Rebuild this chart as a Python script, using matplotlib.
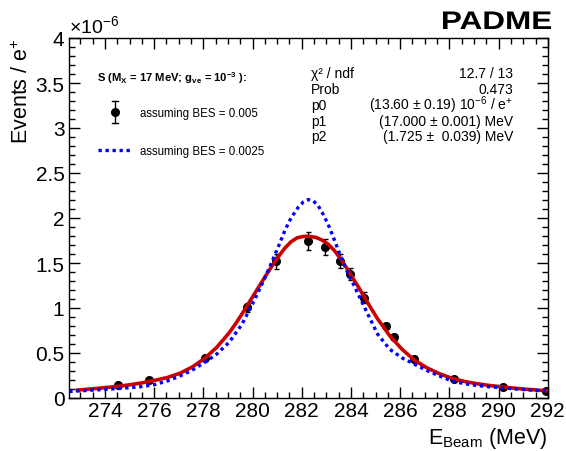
import matplotlib
matplotlib.use("Agg")
import matplotlib.pyplot as plt
from matplotlib.ticker import MultipleLocator, FuncFormatter
from matplotlib.textpath import TextPath
from matplotlib.patches import PathPatch
from matplotlib.font_manager import FontProperties
from matplotlib.transforms import Affine2D

plt.rcParams['font.family'] = ['Liberation Sans', 'DejaVu Sans']
plt.rcParams['mathtext.fontset'] = 'custom'
plt.rcParams['mathtext.rm'] = 'Liberation Sans'
plt.rcParams['mathtext.it'] = 'Liberation Sans:italic'
plt.rcParams['mathtext.bf'] = 'Liberation Sans:bold'

# measured yield per positron (units of 1e-6) vs beam energy
e_beam = [274.53, 275.77, 278.06, 279.76, 280.94, 282.25, 282.95, 283.57,
          283.96, 284.54, 285.43, 285.75, 286.57, 288.19, 290.16, 291.92]
events = [0.148, 0.195, 0.444, 1.01, 1.517, 1.744, 1.68, 1.524,
          1.378, 1.114, 0.797, 0.681, 0.436, 0.211, 0.126, 0.078]
events_err = [0.02, 0.02, 0.03, 0.05, 0.08, 0.095, 0.09, 0.08,
              0.065, 0.06, 0.035, 0.035, 0.03, 0.02, 0.02, 0.015]

# fitted line shape, BES = 0.005
fit_x = [272.88, 273.03, 273.53, 274.03, 274.54, 275.04, 275.54, 276.04, 276.54,
         277.05, 277.55, 278.05, 278.55, 279.05, 279.31, 279.56, 279.81, 280.06,
         280.31, 280.56, 280.81, 281.06, 281.31, 281.56, 281.81, 282.07, 282.27,
         282.57, 282.82, 283.07, 283.32, 283.57, 283.82, 284.07, 284.33, 284.58,
         284.83, 285.08, 285.58, 286.08, 286.58, 287.09, 287.59, 288.09, 288.59,
         289.09, 289.60, 290.10, 290.60, 291.10, 291.60, 292.02]
fit_y = [0.088, 0.091, 0.103, 0.116, 0.13, 0.148, 0.17, 0.197, 0.228,
         0.275, 0.345, 0.44, 0.565, 0.725, 0.825, 0.93, 1.04, 1.15,
         1.26, 1.37, 1.475, 1.575, 1.665, 1.735, 1.78, 1.795, 1.797,
         1.785, 1.755, 1.71, 1.64, 1.55, 1.445, 1.335, 1.22, 1.105,
         0.99, 0.88, 0.69, 0.54, 0.42, 0.335, 0.27, 0.22, 0.185,
         0.16, 0.14, 0.125, 0.11, 0.098, 0.087, 0.079]

# expected line shape, BES = 0.0025
bes_x = [272.55, 273.03, 273.53, 274.03, 274.54, 275.04, 275.54, 276.04, 276.54,
         277.05, 277.55, 278.05, 278.55, 279.05, 279.56, 280.06, 280.56, 281.06,
         281.31, 281.56, 281.86, 282.07, 282.27, 282.47, 282.67, 282.87, 283.07,
         283.32, 283.57, 283.82, 284.07, 284.58, 285.08, 285.58, 286.08, 286.58,
         287.09, 287.59, 288.09, 288.59, 289.09, 289.60, 290.10, 290.60, 291.10,
         291.60, 292.02]
bes_y = [0.072, 0.080, 0.088, 0.096, 0.105, 0.115, 0.128, 0.150, 0.19,
         0.245, 0.31, 0.395, 0.49, 0.62, 0.815, 1.08, 1.37, 1.69,
         1.86, 2.00, 2.12, 2.18, 2.205, 2.19, 2.135, 2.04, 1.93,
         1.76, 1.58, 1.42, 1.28, 0.99, 0.71, 0.54, 0.445, 0.375,
         0.305, 0.245, 0.19, 0.16, 0.14, 0.125, 0.114, 0.102, 0.092,
         0.084, 0.077]

stat_names = ['\u03c7\u00b2 / ndf', 'Prob', 'p0', 'p1', 'p2']
stat_values = ['12.7 / 13', '0.473', '(13.60 \u00b1 0.19) 10$^{-6}$ / e$^{+}$',
               '(17.000 \u00b1 0.001) MeV', '(1.725 \u00b1  0.039) MeV']

W, H = 566, 452
fig = plt.figure(figsize=(W / 100, H / 100), dpi=100)
ax = fig.add_axes([69.3 / W, 1 - 399 / H, 479 / W, 360 / H])


def fx(px):
    return px / W


def fy(py):
    return 1 - py / H


ax.errorbar(e_beam, events, yerr=events_err, fmt='o', color='black', ms=5.5,
            elinewidth=1, capsize=1.8, capthick=1, zorder=2)
ax.plot(fit_x, fit_y, color='#cc0000', lw=2.6, zorder=3)
ax.plot(bes_x, bes_y, color='#0000ff', lw=2.4, ls=(0, (1, 1.1)), zorder=4)

ax.set_xlim(272.55, 292.02)
ax.set_ylim(0, 4)
ax.xaxis.set_major_locator(MultipleLocator(2))
ax.xaxis.set_minor_locator(MultipleLocator(0.5))
ax.yaxis.set_major_locator(MultipleLocator(0.5))
ax.yaxis.set_minor_locator(MultipleLocator(0.1))
ax.yaxis.set_major_formatter(FuncFormatter(lambda v, p: '%g' % v))
ax.tick_params(which='both', direction='in', top=True, right=True, width=1)
ax.tick_params(which='major', length=8, labelsize=15)
ax.tick_params(axis='x', which='major', pad=2)
ax.tick_params(axis='y', which='major', pad=3.5)
ax.tick_params(which='minor', length=4)
for s in ax.spines.values():
    s.set_linewidth(1)

fig.text(fx(69), fy(33), '\u00d710$^{-6}$', fontsize=14, ha='left', va='baseline')
fig.text(fx(22.5), fy(38), 'Events / e$^{+}$', fontsize=15.5, rotation=90,
         ha='center', va='top')
fig.text(fx(548), fy(444), 'E$_{\\mathrm{Beam}}$ (MeV)', fontsize=15.5,
         ha='right', va='baseline')

# experiment tag, wide bold lettering
tp = TextPath((0, 0), 'PADME', size=1,
              prop=FontProperties(family='Liberation Sans', weight='bold'))
bb = tp.get_extents()
tag_tr = (Affine2D().translate(-bb.x0, -bb.y0)
          .scale(108 / W / bb.width, 17.5 / H / bb.height)
          .translate(fx(443), fy(30)) + fig.transFigure)
fig.add_artist(PathPatch(tp, transform=tag_tr, color='black', lw=0))

# legend
fig.text(fx(97), fy(81.5), 'S (M$_{\\mathbf{X}}$ = 17 MeV; g$_{\\mathbf{ve}}$ = 10$^{\\mathbf{-3}}$ ):',
         fontsize=8.1, fontweight='bold', ha='left', va='baseline')
leg_pt = (fx(115), fy(112.7))
fig.add_artist(plt.Line2D([leg_pt[0]] * 2, [fy(101.7), fy(123.7)], color='black', lw=1))
for cy in (101.7, 123.7):
    fig.add_artist(plt.Line2D([fx(112), fx(118)], [fy(cy)] * 2, color='black', lw=1))
fig.add_artist(plt.Line2D([leg_pt[0]], [leg_pt[1]], marker='o', ms=5.5, color='black'))
fig.text(fx(140), fy(116.6), 'assuming BES = 0.005', fontsize=8.3, ha='left', va='baseline')
fig.add_artist(plt.Line2D([fx(98), fx(133)], [fy(150.7)] * 2, color='#0000ff',
                          lw=2.4, ls=(0, (1, 1.1))))
fig.text(fx(140), fy(154.6), 'assuming BES = 0.0025', fontsize=8.3, ha='left', va='baseline')

# fit statistics
for i, (name, val) in enumerate(zip(stat_names, stat_values)):
    yy = fy(78.3 + i * 15.8)
    fig.text(fx(310.7), yy, name, fontsize=10, ha='left', va='baseline')
    fig.text(fx(513), yy, val, fontsize=10, ha='right', va='baseline')

fig.savefig('out.png', dpi=100)
